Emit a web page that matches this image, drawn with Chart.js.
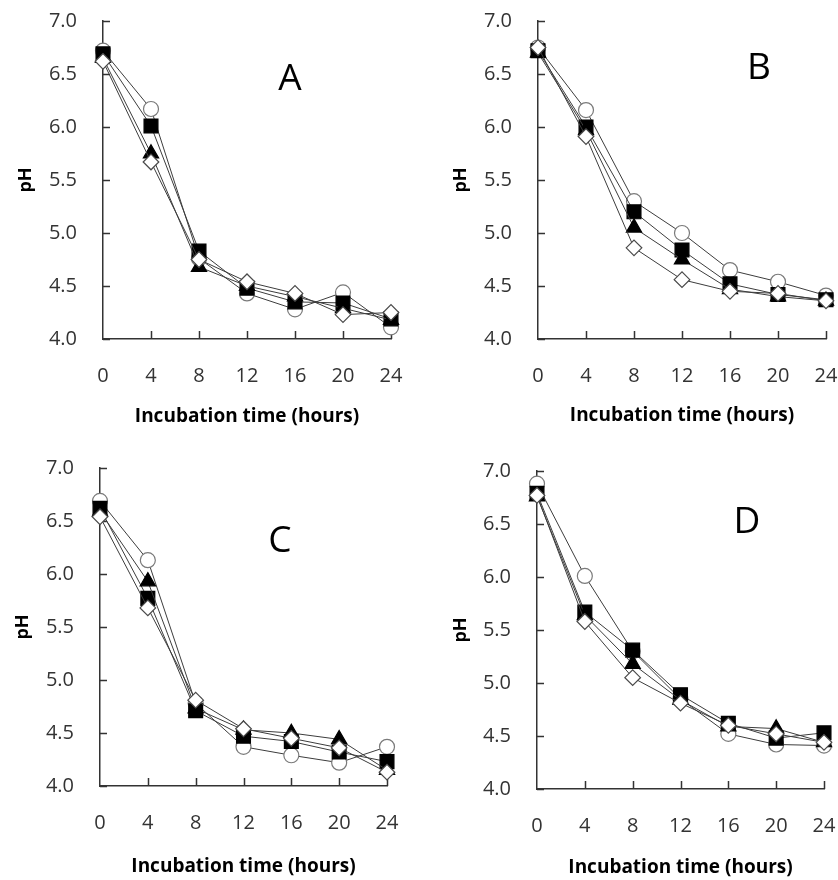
<!DOCTYPE html>
<html>
<head>
<meta charset="utf-8">
<script src="https://cdn.jsdelivr.net/npm/chart.js@4.4.1/dist/chart.umd.min.js"></script>
<style>
  html, body { margin: 0; padding: 0; background: #fff; }
  #wrap { position: relative; width: 838px; height: 880px; overflow: hidden; }
  .panel { position: absolute; }
  .letter {
    position: absolute;
    font-family: "Open Sans", sans-serif;
    font-size: 37px;
    line-height: 1;
    color: #000;
    transform: translate(-50%, -50%);
  }
</style>
</head>
<body>
<div id="wrap"></div>
<script>
const hours = [0, 4, 8, 12, 16, 20, 24];
const yTicks = [4.0, 4.5, 5.0, 5.5, 6.0, 6.5, 7.0];

// panel A
const aCircle   = [6.72, 6.17, 4.76, 4.43, 4.28, 4.44, 4.11];
const aSquare   = [6.69, 6.01, 4.83, 4.48, 4.35, 4.34, 4.19];
const aTriangle = [6.65, 5.75, 4.68, 4.50, 4.40, 4.29, 4.18];
const aDiamond  = [6.62, 5.67, 4.75, 4.54, 4.43, 4.23, 4.25];

// panel B
const bCircle   = [6.75, 6.16, 5.30, 5.00, 4.65, 4.54, 4.41];
const bSquare   = [6.72, 6.00, 5.20, 4.84, 4.52, 4.42, 4.37];
const bTriangle = [6.70, 5.97, 5.05, 4.75, 4.47, 4.40, 4.36];
const bDiamond  = [6.75, 5.91, 4.86, 4.56, 4.45, 4.43, 4.36];

// panel C
const cCircle   = [6.69, 6.13, 4.78, 4.37, 4.29, 4.22, 4.37];
const cSquare   = [6.62, 5.77, 4.71, 4.47, 4.42, 4.32, 4.23];
const cTriangle = [6.59, 5.93, 4.73, 4.53, 4.50, 4.44, 4.15];
const cDiamond  = [6.54, 5.68, 4.81, 4.54, 4.45, 4.36, 4.13];

// panel D
const dCircle   = [6.88, 6.01, 5.30, 4.85, 4.52, 4.42, 4.41];
const dSquare   = [6.79, 5.67, 5.31, 4.89, 4.62, 4.48, 4.53];
const dTriangle = [6.76, 5.64, 5.18, 4.84, 4.59, 4.57, 4.44];
const dDiamond  = [6.77, 5.58, 5.05, 4.81, 4.60, 4.52, 4.44];

const xTitle = 'Incubation time (hours)';
const yTitle = 'pH';

// canvas box and plot area for each panel
const panels = [
    { letter: 'A', left: 0,   top: 0,   w: 419, h: 440, L: 103, R: 391, T: 21, B: 339, yPad: 15, xPad: 12, lx: 290, ly: 75,
      series: [aCircle, aSquare, aTriangle, aDiamond] },
    { letter: 'B', left: 418, top: 0,   w: 420, h: 440, L: 120, R: 408, T: 21, B: 339, yPad: 32, xPad: 13, lx: 341, ly: 64,
      series: [bCircle, bSquare, bTriangle, bDiamond] },
    { letter: 'C', left: 0,   top: 440, w: 419, h: 440, L: 100, R: 387, T: 28, B: 346, yPad: 12, xPad: 2,  lx: 280, ly: 97,
      series: [cCircle, cSquare, cTriangle, cDiamond] },
    { letter: 'D', left: 418, top: 440, w: 420, h: 440, L: 119, R: 406, T: 31, B: 349, yPad: 32, xPad: 1,  lx: 329, ly: 78,
      series: [dCircle, dSquare, dTriangle, dDiamond] }
];

const markers = [
    { style: 'circle',   radius: 7.5, fill: '#ffffff', stroke: '#7a7a7a', order: 4 },
    { style: 'rect',     radius: 9.8, fill: '#000000', stroke: '#000000', order: 3 },
    { style: 'triangle', radius: 8.8, fill: '#000000', stroke: '#000000', order: 2 },
    { style: 'rectRot',  radius: 7.8, fill: '#ffffff', stroke: '#4a4a4a', order: 1 }
];

// inside tick marks, like the original spreadsheet chart
const insideTicks = {
    id: 'insideTicks',
    beforeDatasetsDraw(chart) {
        const ctx = chart.ctx;
        const area = chart.chartArea;
        const xs = chart.scales.x;
        const ys = chart.scales.y;
        ctx.save();
        ctx.strokeStyle = '#333';
        ctx.lineWidth = 1.5;
        ctx.beginPath();
        ys.ticks.forEach(t => {
            const y = Math.round(ys.getPixelForValue(t.value)) + 0.5;
            ctx.moveTo(area.left, y);
            ctx.lineTo(area.left + 7, y);
        });
        xs.ticks.forEach(t => {
            if (t.value === 0) return;
            const x = Math.round(xs.getPixelForValue(t.value)) + 0.5;
            ctx.moveTo(x, area.bottom);
            ctx.lineTo(x, area.bottom - 8);
        });
        ctx.stroke();
        ctx.restore();
    }
};

const wrap = document.getElementById('wrap');

panels.forEach(p => {
    const div = document.createElement('div');
    div.className = 'panel';
    div.style.left = p.left + 'px';
    div.style.top = p.top + 'px';
    div.style.width = p.w + 'px';
    div.style.height = p.h + 'px';
    const canvas = document.createElement('canvas');
    canvas.width = p.w;
    canvas.height = p.h;
    div.appendChild(canvas);
    const letter = document.createElement('div');
    letter.className = 'letter';
    letter.style.left = p.lx + 'px';
    letter.style.top = p.ly + 'px';
    letter.textContent = p.letter;
    div.appendChild(letter);
    wrap.appendChild(div);

    const datasets = p.series.map((vals, i) => ({
        data: hours.map((h, j) => ({ x: h, y: vals[j] })),
        borderColor: '#3c3c3c',
        borderWidth: 1,
        pointStyle: markers[i].style,
        pointRadius: markers[i].radius,
        pointBackgroundColor: markers[i].fill,
        pointBorderColor: markers[i].stroke,
        pointBorderWidth: 1.2,
        order: markers[i].order,
        clip: false,
        tension: 0
    }));

    new Chart(canvas.getContext('2d'), {
        type: 'line',
        data: { datasets: datasets },
        options: {
            responsive: false,
            animation: false,
            events: [],
            layout: { padding: { left: 0, top: p.T, right: p.w - p.R, bottom: 0 } },
            plugins: { legend: { display: false }, tooltip: { enabled: false } },
            scales: {
                x: {
                    type: 'linear',
                    min: 0,
                    max: 24,
                    afterFit: s => {
                        s.height = p.h - p.B;
                        s.paddingLeft = 0;
                        s.paddingRight = 0;
                    },
                    afterBuildTicks: s => { s.ticks = hours.map(v => ({ value: v })); },
                    grid: { display: true, drawOnChartArea: false, drawTicks: false },
                    border: { display: true, color: '#333', width: 1.5 },
                    ticks: {
                        padding: 25,
                        color: '#333',
                        font: { family: 'Open Sans', size: 20 },
                        maxRotation: 0
                    },
                    title: {
                        display: true,
                        text: xTitle,
                        color: '#000',
                        font: { family: 'Open Sans', size: 19, weight: 'bold' },
                        padding: { top: 0, bottom: p.xPad }
                    }
                },
                y: {
                    min: 4,
                    max: 7,
                    afterFit: s => {
                        s.width = p.L;
                        s.paddingTop = 0;
                        s.paddingBottom = 0;
                    },
                    afterBuildTicks: s => { s.ticks = yTicks.map(v => ({ value: v })); },
                    grid: { display: true, drawOnChartArea: false, drawTicks: false },
                    border: { display: true, color: '#333', width: 1.5 },
                    ticks: {
                        padding: 26,
                        color: '#333',
                        font: { family: 'Open Sans', size: 20 },
                        callback: v => v.toFixed(1)
                    },
                    title: {
                        display: true,
                        text: yTitle,
                        color: '#000',
                        font: { family: 'Open Sans', size: 18, weight: 'bold' },
                        padding: { top: p.yPad, bottom: 0 }
                    }
                }
            }
        },
        plugins: [insideTicks]
    });
});
</script>
</body>
</html>
